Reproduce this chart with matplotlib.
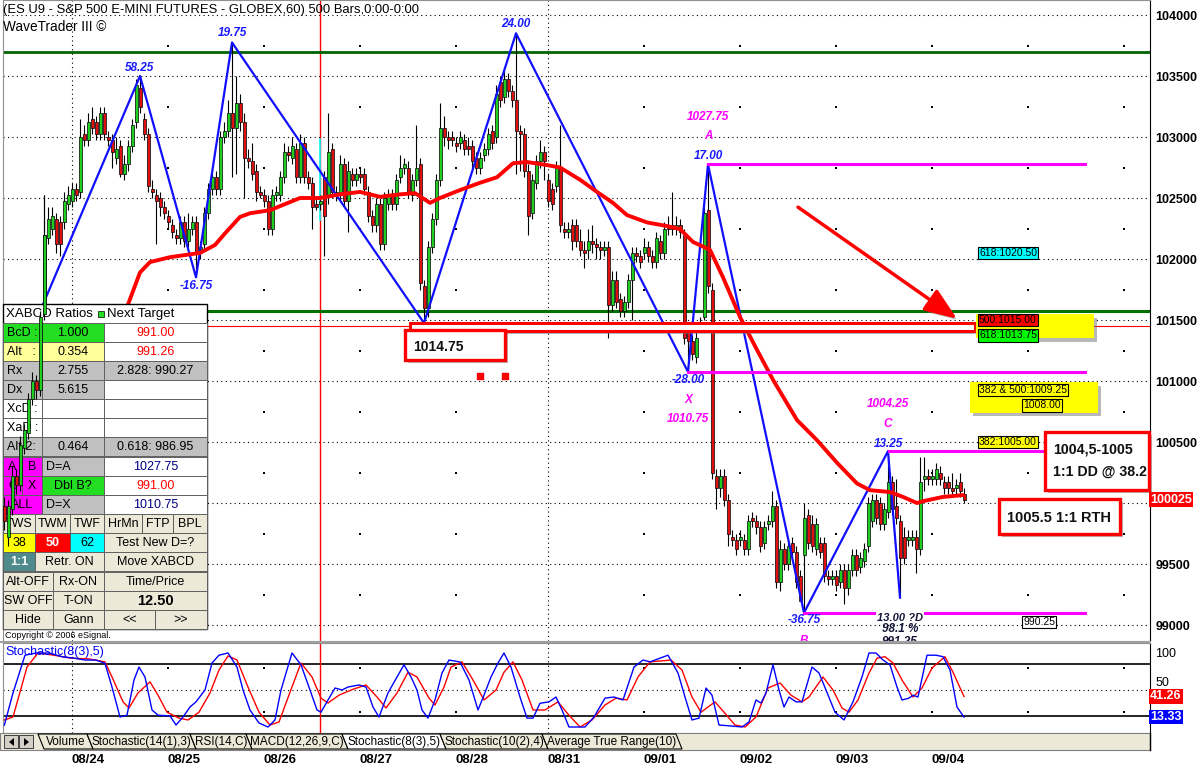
import numpy as np
import matplotlib
matplotlib.use("Agg")
import matplotlib.pyplot as plt
import matplotlib.patches as patches
import matplotlib.patheffects as pe
from matplotlib.transforms import Affine2D, blended_transform_factory

plt.rcParams['font.family'] = ['Liberation Sans', 'DejaVu Sans']

# ---------------- data ----------------
# hourly bars, index 0 = first visible bar
o = [999.75, 997.25, 999.5, 1002.25, 1001.5, 1004.5, 1005.75, 1008.5, 1010, 1009.25,
     1015.5, 1021.75, 1022.5, 1023.25, 1023, 1023, 1024.5, 1024.75, 1025.75, 1025.5,
     1030.25, 1029.75, 1031.5, 1031.25, 1030.25, 1032, 1030, 1029.75, 1028.25, 1029.25,
     1027, 1027.75, 1029.25, 1031.25, 1034, 1031.5, 1030.25, 1025.75, 1025.25, 1025,
     1024.25, 1023.5, 1022.75, 1022, 1021.75, 1023, 1021.5, 1022.5, 1023, 1020.5,
     1021.25, 1023.75, 1025.75, 1026.75, 1025.75, 1030, 1030.5, 1032, 1030.75, 1032.75,
     1031.25, 1028.25, 1028, 1027.25, 1025.5, 1025.25, 1024.75, 1022.5, 1025.25, 1025.25,
     1026.75, 1028.75, 1028.25, 1029, 1026.75, 1029.5, 1026.75, 1026.25, 1024.5, 1024.5,
     1026.75, 1025.25, 1029, 1025.25, 1025.25, 1027.75, 1024.75, 1027, 1026.5, 1027,
     1027, 1025.5, 1023.5, 1022.75, 1024.5, 1021.25, 1024.5, 1025.25, 1024.5, 1026.75,
     1027.5, 1027.5, 1025.25, 1026.5, 1027.75, 1017.75, 1016, 1021, 1023.25, 1026.5,
     1030.75, 1030, 1030, 1029.5, 1029.5, 1029.75, 1029.25, 1029.25, 1028.25, 1027.5,
     1028.5, 1029, 1030.5, 1030, 1034.5, 1033.25, 1034.75, 1033.75, 1033, 1030.5,
     1030.25, 1027.25, 1023.75, 1026.25, 1028, 1028.75, 1026.5, 1025.75, 1026, 1027.5,
     1022.5, 1022.25, 1022.75, 1022.75, 1021.5, 1020.75, 1020.75, 1021.5, 1021.25, 1021,
     1020.75, 1021, 1016.25, 1018.25, 1016.75, 1015.75, 1016.5, 1018.25, 1020.5, 1020.25,
     1020.5, 1021, 1020.25, 1019.75, 1021.5, 1020.5, 1022.75, 1022.75, 1022.5, 1022.75,
     1022, 1014, 1013.25, 1012, 1014.5, 1015.25, 1024, 1017.5, 1002.25, 1001.25,
     1002.25, 1000.25, 997.25, 997, 997, 997, 996.25, 998.75, 998.5, 998,
     996.75, 998.25, 998.5, 999.75, 993.5, 996.25, 995, 996.75, 996, 994,
     995.75, 999, 998.25, 996.25, 996.75, 996.75, 994, 993.75, 994, 993.5,
     994.5, 993, 994.5, 995.75, 994.75, 995.25, 996.5, 998.5, 1000.25, 1000,
     998.25, 999.25, 1001.75, 999.75, 998.5, 997.25, 997, 997, 997.25, 996.25,
     1002, 1002.25, 1002, 1002, 1002.5, 1001.75, 1001.75, 1001.25, 1001.25, 1001.75,
     1000.75]
h = [1000.5, 1000.25, 1003, 1002.75, 1005.5, 1006.5, 1009, 1010.75, 1010.5, 1015.75,
     1025.25, 1024.25, 1024.25, 1023.75, 1023.5, 1025.5, 1026, 1026.25, 1026.25, 1031.5,
     1031, 1032, 1032.5, 1031.75, 1032.5, 1032.5, 1030.5, 1030.25, 1030, 1029.75,
     1028.5, 1029.75, 1031.5, 1034.75, 1035, 1032, 1030.75, 1026.5, 1025.75, 1025.5,
     1024.75, 1024, 1023.25, 1022.5, 1023.5, 1023.5, 1023.75, 1023.5, 1023.5, 1021.5,
     1024.25, 1026.25, 1027.5, 1027.25, 1030.5, 1031.25, 1033, 1037.75, 1035, 1033.5,
     1032, 1029, 1029.5, 1027.75, 1026, 1025.75, 1025.25, 1025.75, 1026, 1027.25,
     1029.5, 1029.25, 1030, 1029.5, 1030.25, 1030, 1027.25, 1026.75, 1025, 1025.25,
     1027.25, 1032, 1029.5, 1026, 1028.5, 1028.25, 1028, 1027.5, 1027.5, 1027.5,
     1027.5, 1026, 1024, 1025, 1025, 1025.5, 1025.75, 1025.75, 1027, 1028.5,
     1028.25, 1028, 1027, 1031, 1028.25, 1018.25, 1021.5, 1023.75, 1027, 1032.75,
     1031.75, 1030.5, 1030.5, 1030, 1030.5, 1030.25, 1030, 1029.75, 1028.75, 1028.75,
     1029.5, 1030.75, 1031, 1034.25, 1035, 1035.5, 1035.25, 1034.25, 1038.5, 1031,
     1030.75, 1027.75, 1027, 1028.5, 1029.75, 1029.25, 1027, 1026.25, 1028, 1031,
     1023, 1023, 1023.25, 1023.25, 1022.5, 1021.5, 1022.5, 1022.75, 1021.75, 1021.5,
     1021.5, 1021.5, 1019, 1019, 1017.25, 1017, 1018.75, 1021, 1021, 1020.75,
     1021.75, 1021.5, 1020.75, 1022.25, 1022, 1023, 1023.5, 1025.5, 1023.5, 1023.25,
     1022.5, 1014.5, 1013.75, 1014, 1015.25, 1024.25, 1027.75, 1018, 1002.75, 1002.75,
     1002.75, 1000.75, 997.75, 997.5, 997.75, 997.5, 999, 999.25, 999, 998.5,
     998.5, 999, 1001, 1000.25, 997, 996.75, 997, 997.25, 996.5, 994.5,
     1000, 999.5, 999, 998.75, 997.25, 997.25, 994.5, 994.5, 994.5, 995,
     995, 995, 996.25, 996.25, 996, 996.75, 1000.5, 1000.75, 1000.75, 1000.5,
     1000, 1004.25, 1002.25, 1002, 999, 998, 997.75, 997.75, 997.75, 1003.75,
     1003.75, 1002.75, 1002.75, 1003.25, 1003, 1002.25, 1002.25, 1002.5, 1002, 1002.5,
     1001.25]
l = [997.75, 996.5, 999, 1000.75, 1001, 1004, 1005.25, 1008, 1008.5, 1008.75,
     1015, 1021.25, 1022, 1020.5, 1020.25, 1022.5, 1024, 1024.25, 1024.75, 1025,
     1029.25, 1029.25, 1030.25, 1029.75, 1029.75, 1029.75, 1029.25, 1027.5, 1027.75, 1026.75,
     1026.5, 1027.25, 1028.75, 1030.75, 1032, 1029.75, 1025.5, 1025, 1021.25, 1023.5,
     1023.25, 1022.5, 1021.75, 1021.25, 1021.25, 1021, 1021, 1022, 1018.5, 1020,
     1020.75, 1023.25, 1025.25, 1025.25, 1025.25, 1029.5, 1030, 1026.75, 1027, 1030.5,
     1025, 1027.5, 1026.5, 1024.75, 1025, 1024.25, 1022, 1022, 1024.75, 1024.75,
     1026.25, 1028, 1027.75, 1026.25, 1026.25, 1026.25, 1025.75, 1022.5, 1024, 1024,
     1020.25, 1024.5, 1025, 1024.75, 1024.75, 1024.25, 1022.25, 1026, 1026, 1026.25,
     1025.25, 1023, 1022.25, 1022.25, 1020.75, 1020.75, 1024, 1024, 1024, 1026.25,
     1027, 1025, 1024.75, 1026, 1017.5, 1014.75, 1015.25, 1020.5, 1022.75, 1026,
     1029.25, 1029, 1029.25, 1028.75, 1029, 1028.5, 1028.5, 1027.5, 1027, 1027,
     1028, 1028.5, 1029, 1029.5, 1032.5, 1032.75, 1033.25, 1032.5, 1027, 1027.25,
     1026.75, 1022, 1023.25, 1025.75, 1027.5, 1026.5, 1024.25, 1024, 1025.5, 1022.25,
     1021.75, 1021.75, 1020.75, 1021, 1020.25, 1019.25, 1020, 1020.5, 1020, 1020,
     1020.25, 1013.5, 1015.75, 1016, 1015.25, 1015.25, 1016, 1015, 1019.75, 1019.25,
     1020, 1019.75, 1019.25, 1019.25, 1020, 1020, 1022, 1022, 1022, 1021.75,
     1013, 1010.75, 1011.75, 1011.5, 1014, 1015, 1017.25, 1002, 999.5, 1000.5,
     999.75, 996.5, 996.5, 995.75, 996.5, 995.75, 995.75, 998, 997.5, 996,
     996.25, 997.75, 998, 993, 992.75, 994.5, 994.5, 995.5, 993, 992,
     991, 996.25, 996, 995.75, 995.5, 993.5, 993.25, 993.25, 992.75, 993,
     991.75, 992.5, 994, 994, 994.25, 994.75, 996, 998, 998.25, 997.75,
     997.75, 998.75, 999, 998.25, 992.25, 995, 996.5, 996.5, 994.25, 995.75,
     1001, 1001.5, 1001.5, 1001.5, 1001.5, 1000.75, 1000.75, 1000.5, 1000.75, 1000.5,
     1000]
c = [998.5, 999.75, 1002.25, 1001.5, 1004.75, 1006, 1008.5, 1010, 1009.25, 1015.25,
     1022, 1023.25, 1023.5, 1021.25, 1021.25, 1024.75, 1025.25, 1025.75, 1025.25, 1030,
     1029.75, 1031.25, 1030.75, 1030.25, 1032, 1030.25, 1029.75, 1028.75, 1029, 1027,
     1027.75, 1029.25, 1031, 1034.25, 1032.5, 1030.25, 1026, 1025.5, 1024.75, 1024.25,
     1023.75, 1023, 1022.25, 1021.75, 1023, 1021.5, 1022.5, 1023, 1020.5, 1021,
     1023.75, 1025.75, 1026.75, 1025.75, 1030, 1030.5, 1032, 1030.75, 1032.75, 1031.25,
     1028.25, 1028, 1027, 1025.5, 1025.25, 1024.75, 1022.5, 1025.25, 1025.5, 1026.75,
     1028.75, 1028.5, 1029.25, 1026.75, 1029.5, 1026.75, 1026.25, 1024.25, 1024.25, 1024.75,
     1023.5, 1028.75, 1025.5, 1025.5, 1027.75, 1024.75, 1027.25, 1026.5, 1027, 1026.75,
     1025.75, 1023.5, 1022.75, 1024.5, 1021.25, 1025, 1025.25, 1024.5, 1026.5, 1027.5,
     1027.75, 1025.5, 1026.5, 1027.5, 1018, 1016, 1021, 1023.25, 1026.5, 1030.75,
     1030, 1029.75, 1029.75, 1029.25, 1030, 1029, 1029, 1028, 1027.5, 1028.25,
     1029, 1030.25, 1029.5, 1033.5, 1033, 1034.75, 1033.75, 1033, 1030.5, 1030.25,
     1027.25, 1023.5, 1026.5, 1028, 1028.75, 1028, 1024.75, 1024.5, 1027.5, 1022.75,
     1022.25, 1022.5, 1021.5, 1021.5, 1020.75, 1020.5, 1021.5, 1021.25, 1021, 1020.75,
     1021, 1016.25, 1018.25, 1016.5, 1015.75, 1016.5, 1018.25, 1020.5, 1020.25, 1019.75,
     1021, 1020.25, 1019.75, 1021.75, 1020.5, 1022.5, 1022.5, 1022.5, 1022.75, 1022.25,
     1013.5, 1013.25, 1012.25, 1013.5, 1014.75, 1023.75, 1017.75, 1002.5, 1001.25, 1002.25,
     1000.25, 997.5, 997, 996.25, 997.25, 996.25, 998.5, 998.5, 998, 996.5,
     998, 998.5, 999.75, 993.5, 996.25, 995, 996.5, 996, 993.5, 992,
     998.75, 996.75, 996.5, 998.25, 996, 994, 993.75, 994, 993.25, 994.5,
     993, 994.5, 995.75, 994.5, 995.5, 996.25, 1000, 1000.25, 998.75, 998.25,
     999.5, 1001.75, 999.5, 998.75, 995.5, 995.5, 997.25, 997.25, 996.25, 1001.75,
     1002.25, 1002, 1002.25, 1002.75, 1002, 1001.25, 1001.25, 1001, 1001.5, 1001,
     1000.25]

# red moving average (bar position, price)
ma_x = [27, 30.75, 34, 36.5, 41.5, 49, 52.75, 55.25, 59, 61.5, 66.5, 74, 79, 84, 89, 94, 99,
        102.75, 106.5, 109, 114, 119, 123.25, 127.25, 130.75, 135.75, 139, 144, 148.25,
        152.25, 155.75, 160.75, 165.75, 169, 172.25, 176.5, 179.75, 184, 188.25, 192.25,
        198.25, 203.25, 208.25, 213.25, 216.5, 221.5, 224.75, 228.25, 229.75, 234.75, 239.75]
ma_y = [1013.5, 1016.05, 1018.9, 1019.75, 1020.15, 1020.5, 1021.15, 1022.1, 1023.45, 1023.75,
        1024.0, 1025.0, 1025.0, 1025.3, 1025.5, 1025.1, 1025.3, 1025.4, 1024.6, 1025.0,
        1025.65, 1026.25, 1026.7, 1027.85, 1027.95, 1027.7, 1027.5, 1026.5, 1025.5, 1024.6,
        1023.6, 1023.0, 1022.7, 1022.45, 1021.4, 1020.75, 1018.5, 1015.25, 1012.55, 1010.1,
        1006.8, 1005.15, 1003.3, 1001.6, 1001.05, 1000.9, 1000.5, 1000.0, 1000.15, 1000.5,
        1000.65]

# blue swing zigzag
zz_x = [0, 34, 48, 57, 105, 128, 171, 176, 200, 221, 224]
zz_y = [1008.75, 1035, 1018.5, 1037.75, 1014.75, 1038.5, 1010.75, 1027.75, 991.0, 1004.25, 992.25]
swing_labels = ['', '58.25', '-16.75', '19.75', '', '24.00', '-28.00', '17.00', '-36.75', '13.25', '']

# stochastic %K (blue) and %D (red), (bar position, value)
stoch_k = [(0.1, 2.7), (2.25, 46), (5.25, 97), (8, 100), (11.25, 100), (14.5, 95), (17.5, 93),
           (20.25, 90.5), (23, 90.5), (25.25, 86), (27, 54), (29, 13.5), (30.75, 16), (32.5, 63.5),
           (33.75, 81), (35.25, 67.5), (37, 23), (38.5, 16), (41.5, 15), (43, 2.7), (44.75, 13.5),
           (46.5, 27), (48, 34), (50.25, 50), (52, 86.5), (53.75, 97), (56, 100), (58.25, 81),
           (59.75, 50), (61.5, 23), (63.75, 5.4), (66, 0), (67.75, 9.5), (69.25, 50), (72, 100),
           (74.25, 84), (76.5, 50), (78.25, 23), (79.25, 20), (81, 36.5), (82.75, 52.7), (84.5, 50),
           (86, 54), (88.75, 56.8), (90.5, 54), (92.25, 27), (93.75, 13.5), (96, 46), (98.25, 67.6),
           (100, 84), (101.75, 67.6), (103.25, 50), (104.5, 23), (106, 12), (107.75, 36.5),
           (109.5, 72.9), (111.25, 90.5), (114, 87.8), (116.25, 63.5), (118.5, 23), (120, 43),
           (121.75, 67.6), (123.5, 86.5), (125, 100), (126.75, 81), (129, 40.5), (130.75, 12),
           (132.25, 12), (134, 32), (136.25, 34), (138, 40.5), (139.5, 23), (141.25, 0), (143, 0),
           (145.25, 0), (147.5, 13.5), (150.25, 39), (152.5, 40.5), (154.75, 36.5), (157.5, 81),
           (159.75, 90.5), (161.5, 88), (166, 97), (168.5, 73), (170.25, 40.5), (172, 9.5),
           (173.75, 12), (175.5, 52.7), (177, 43), (178.75, 2.7), (181.75, 1.4), (184.5, 0),
           (186.25, 6.8), (188, 36.5), (189.25, 32.4), (190.5, 46), (192.25, 84), (193.75, 50),
           (195, 27), (196.25, 40.5), (198, 34), (199.5, 34), (202, 81), (203.75, 73), (205.5, 50),
           (207.75, 20), (210, 9.5), (212.25, 34), (214.5, 67.6), (216.25, 100), (218, 100),
           (219.75, 90.5), (221.5, 84), (223.25, 54), (224.5, 36.5), (226.25, 39), (227.25, 43),
           (228.5, 40.5), (230.75, 97), (233, 97), (234.75, 95), (236.5, 77), (238.25, 27),
           (240, 13.33)]
stoch_d = [(0.1, 9.5), (2.25, 13.5), (5.75, 81), (8.5, 100), (12.5, 97), (16.75, 93), (21.25, 92),
           (25.25, 88), (27, 67.6), (29.75, 34), (31.25, 25.7), (33.5, 46), (36.5, 61), (38.5, 43),
           (40.75, 20), (43.75, 12), (46, 9.5), (48.75, 20), (51.5, 46), (53.75, 77), (56, 96),
           (58.25, 90.5), (61, 54), (63.75, 20), (66.5, 2.7), (68.75, 6.8), (71.5, 47), (74.25, 86.5),
           (77, 67.6), (79.25, 39), (81, 32.4), (83.75, 43), (87.25, 51), (90.5, 56.8), (93.25, 40.5),
           (95.5, 25.7), (98.25, 46), (101, 74), (103.25, 67.6), (106.25, 39), (107.75, 29.7),
           (110, 54), (111.75, 81), (114.5, 88), (117.25, 63.5), (120, 36.5), (123, 50), (125, 74),
           (127.25, 88), (129.5, 63.5), (132.25, 23), (135.25, 23), (138.5, 34), (140.75, 19),
           (144, 0), (147, 9.5), (150.25, 29.7), (153, 39), (155.75, 36.5), (158.5, 67.6),
           (161.5, 88), (166.75, 90.5), (169.5, 77), (172, 40.5), (174.25, 20), (176, 27),
           (177.75, 34), (180, 20), (182.75, 2.7), (185.25, 0), (188, 13.5), (191, 52.7),
           (194, 59.5), (196.75, 43), (199.5, 34), (201.25, 40.5), (204.75, 67.6), (207.25, 50),
           (209.5, 25.7), (211.25, 20), (213.5, 36.5), (216.25, 73), (218.25, 93), (220.25, 95),
           (222.25, 86.5), (224.5, 63.5), (227.25, 40.5), (229.5, 52.7), (232, 79.7), (235.25, 95),
           (237.25, 74), (240, 41.26)]

price_ticks = [990, 995, 1000, 1005, 1010, 1015, 1020, 1025, 1030, 1035, 1040]
day_pos = [17, 41, 65, 89, 113, 136, 160, 184, 208, 232]
day_labels = ['08/24', '08/25', '08/26', '08/27', '08/28', '08/31', '09/01', '09/02', '09/03', '09/04']
last_price = 1000.25

# ---------------- figure ----------------
W, H = 1203, 784
fig = plt.figure(figsize=(W / 100, H / 100), dpi=100)
fig.patch.set_facecolor('white')
px = Affine2D().scale(1.0 / W, -1.0 / H).translate(0, 1) + fig.transFigure
shadow = [pe.SimplePatchShadow(offset=(2.5, -2.5), shadow_rgbFace='0.45', alpha=0.5), pe.Normal()]

ax = fig.add_axes([3 / W, 1 - 641 / H, 1147 / W, 641 / H])
ax.set_xlim(-0.25, 286.5)
ax.set_ylim(988.69, 1041.23)
ax.set_xticks([])
ax.set_yticks(price_ticks)
# the 100000 label sits under the last-price tag
ax.set_yticklabels(['' if p == 1000 else '%d' % (p * 100) for p in price_ticks])
ax.yaxis.tick_right()
ax.tick_params(axis='y', length=0, pad=4, labelsize=9)
for t in ax.get_yticklabels():
    t.set_fontweight('bold')
for s in ['left', 'top', 'bottom']:
    ax.spines[s].set_color('#909090')
ax.spines['right'].set_color('black')

# grid
for p in price_ticks:
    ax.axhline(p, color='black', lw=0.8, ls=(0, (1, 3)), zorder=0.5)
ax.axvline(day_pos[0], color='black', lw=0.8, ls=(0, (1, 3)), zorder=0.5)
ax.axvline(day_pos[5], color='black', lw=0.8, ls=(0, (1, 3)), zorder=0.5)
sparse = [d for d in day_pos if d not in (day_pos[0], day_pos[5])] + [256, 280]
mids = [992.5, 997.5, 1002.5, 1007.5, 1012.5, 1017.5, 1022.5, 1027.5, 1032.5, 1037.5]
for d in sparse:
    ax.scatter([d] * len(mids), mids, s=2, c='black', marker='s', lw=0, zorder=0.5)

ax.axvline(79, color='red', lw=1, zorder=0.6)
ax.plot([79, 79], [1029.8, 1023.2], color='cyan', lw=1.2, zorder=0.7)

# horizontal levels
ax.axhline(1037, color='#006400', lw=2, zorder=1)
ax.axhline(1015.75, color='#007000', lw=2.2, zorder=1)
ax.axhline(1014.5, color='red', lw=0.8, zorder=1)

# candles
idx = np.arange(len(c))
oa, ha_, la, ca = map(np.array, (o, h, l, c))
cols = np.where(ca > oa, '#1fcf1f', '#e01010')


def draw_candles(sel, z):
    ax.vlines(idx[sel], la[sel], ha_[sel], color='black', lw=0.8, zorder=z)
    ax.bar(idx[sel], ca[sel] - oa[sel], bottom=oa[sel], width=0.75, color=cols[sel],
           edgecolor='black', linewidth=0.5, zorder=z + 0.1)


draw_candles(idx >= 0, 2)
draw_candles(idx <= 10, 4.5)

# zigzag, MA
ax.plot(zz_x, zz_y, color='#1010ff', lw=1.6, zorder=3)
ax.plot(ma_x, ma_y, color='#ff0000', lw=2.8, zorder=3, solid_capstyle='round')

# magenta levels
mag = '#ff00ff'
ax.plot([176, 270.25], [1027.75, 1027.75], color=mag, lw=2.2, zorder=3)
ax.plot([171, 270.25], [1010.75, 1010.75], color=mag, lw=2.2, zorder=3)
ax.plot([221.25, 262], [1004.25, 1004.25], color=mag, lw=2.2, zorder=3)
ax.plot([200, 270.25], [991.0, 991.0], color=mag, lw=2.2, zorder=3)

# swing labels
off = {1: 6, 2: -6.5, 3: 7, 5: 6.5, 6: -5.8, 7: 6.1, 8: -5.4, 9: 5.4}
for k, s in enumerate(swing_labels):
    if s:
        ax.annotate(s, (zz_x[k], zz_y[k]), xytext=(0, off[k]), textcoords='offset points',
                    ha='center', va='center', color='#1a1aff', fontsize=8.5,
                    fontweight='bold', style='italic', zorder=5)


def mlabel(txt, k, dy, color=mag, clip=False):
    ax.annotate(txt, (zz_x[k], zz_y[k]), xytext=(0, dy), textcoords='offset points',
                ha='center', va='center', color=color, fontsize=8.5, fontweight='bold',
                style='italic', zorder=5, annotation_clip=False, clip_on=clip)


mlabel('1027.75', 7, 34)
mlabel('A', 7, 20.5)
mlabel('X', 6, -20)
mlabel('1010.75', 6, -34)
mlabel('1004.25', 9, 34)
mlabel('C', 9, 19.4)
mlabel('B', 8, -20, clip=True)
ax.annotate('13.00 ?D', (zz_x[10], zz_y[10]), xytext=(0, -14.8), textcoords='offset points',
            ha='center', va='center', color='#15153a', fontsize=8, fontweight='bold',
            style='italic', zorder=5,
            bbox=dict(boxstyle='square,pad=0.1', fc='white', ec='none'))
mlabel('98.1 %', 10, -22.3, color='#15153a')
mlabel('991.25', 10, -31.7, color='#15153a', clip=True)

# red bar at 1014.75 and callouts
ax.add_patch(patches.Rectangle((101.5, 1014.1), 141.25, 0.65, fc='white', ec='red', lw=2.2,
                               zorder=3.6, path_effects=shadow))
ax.scatter([119, 125.25], [1010.4, 1010.4], marker='s', s=18, c='red', zorder=5)


def callout(x, y, w, hh, lines, fs=10.5):
    ax.add_patch(patches.Rectangle((x, y), w, hh, transform=px, fc='white', ec='red', lw=2.4,
                                   zorder=6, clip_on=False, path_effects=shadow))
    n = len(lines)
    for j, s in enumerate(lines):
        yy = y + hh * (j + 1) / (n + 1) + (2 if n == 1 else (j * 2 - 1) * 1.5)
        ax.text(x + 8, yy, s, transform=px, fontsize=fs, fontweight='bold', va='center',
                color='#111111', zorder=7, clip_on=False)


callout(405, 330, 100, 30, ['1014.75'], fs=10)
callout(1045, 432, 104, 58, ['1004,5-1005', '1:1 DD @ 38.2'], fs=10.2)
callout(999, 499, 121, 35, ['1005.5 1:1 RTH'])

# arrow
arr = ax.annotate('', xy=(238.25, 1015.1), xytext=(198.5, 1024.25),
                  arrowprops=dict(arrowstyle='-|>,head_length=0.9,head_width=0.35', color='red',
                                  lw=2.5, shrinkA=0, shrinkB=0, mutation_scale=22), zorder=7)
arr.arrow_patch.set_path_effects(shadow)

# yellow zones and level tags
ax.add_patch(patches.Rectangle((243, 1013.5), 29.5, 1.97, fc='#ffff00', ec='none', zorder=3.7,
                               path_effects=shadow))
ax.add_patch(patches.Rectangle((241.5, 1007.4), 32, 2.5, fc='#ffff00', ec='none', zorder=3.7,
                               path_effects=shadow))
tags = [(243.75, 1020.5, '618:1020.50', '#00ffff'), (243.75, 1015.0, '500:1015.00', '#ff0000'),
        (243.75, 1013.75, '618:1013.75', '#00ff00'), (243.75, 1009.25, '382 & 500:1009.25', '#ffff00'),
        (254.75, 1008.0, '1008.00', '#ffff00'), (243.75, 1005.0, '382:1005.00', '#ffff00'),
        (254.75, 990.25, '990.25', 'white')]
for tx, ty, s, fc in tags:
    ax.text(tx, ty, s, fontsize=7.5, va='center', ha='left', zorder=5,
            bbox=dict(boxstyle='square,pad=0.12', fc=fc, ec='black', lw=0.8))

ax.text(1.0, last_price, '100025', transform=blended_transform_factory(ax.transAxes, ax.transData),
        color='white', fontsize=9, fontweight='bold', va='center', ha='left', clip_on=False,
        zorder=8, bbox=dict(boxstyle='square,pad=0.12', fc='#ff0000', ec='none'))


# ---------------- XABCD table ----------------
def cell(x, y, w, hh, fc, txt='', tc='black', ha='center', fs=8.5, fw='normal', ec='#606060'):
    ax.add_patch(patches.Rectangle((x, y), w, hh, transform=px, fc=fc, ec=ec, lw=0.7,
                                   zorder=4, clip_on=False))
    if txt:
        tx = x + w / 2 if ha == 'center' else x + 4
        ax.text(tx, y + hh / 2 + 0.5, txt, transform=px, ha=ha, va='center', color=tc,
                fontsize=fs, fontweight=fw, zorder=4.2, clip_on=False)


ax.add_patch(patches.Rectangle((3, 304), 204, 325, transform=px, fc='white', ec='black', lw=1,
                               zorder=4, clip_on=False))
ax.text(6, 314, 'XABCD Ratios', transform=px, va='center', fontsize=9.5, zorder=4.2)
ax.add_patch(patches.Rectangle((98, 311), 6, 6, transform=px, fc='#22dd22', ec='black', lw=0.5,
                               zorder=4.2, clip_on=False))
ax.text(107, 314, 'Next Target', transform=px, va='center', fontsize=9.5, zorder=4.2)

G, Y, S, M, B = '#22dd22', '#ffff99', '#c0c0c0', '#ff00ff', '#ece9d8'
rows = [
    (323, [(3, 39, G, 'BcD :', 'black', 'left'), (42, 62, G, '1.000'), (104, 103, 'white', '991.00', 'red')]),
    (342, [(3, 39, Y, 'Alt   :', 'black', 'left'), (42, 62, Y, '0.354'), (104, 103, 'white', '991.26', 'red')]),
    (361, [(3, 39, S, 'Rx', 'black', 'left'), (42, 62, S, '2.755'), (104, 103, S, '2.828: 990.27')]),
    (380, [(3, 39, S, 'Dx', 'black', 'left'), (42, 62, S, '5.615'), (104, 103, 'white', '')]),
    (399, [(3, 39, 'white', 'XcD :', 'black', 'left'), (42, 62, 'white', ''), (104, 103, 'white', '')]),
    (418, [(3, 39, 'white', 'XaD :', 'black', 'left'), (42, 62, 'white', ''), (104, 103, 'white', '')]),
    (437, [(3, 39, S, 'Alt 2:', 'black', 'left'), (42, 62, S, '0.464'), (104, 103, S, '0.618: 986.95')]),
    (457, [(3, 19, M, 'A'), (22, 20, M, 'B'), (42, 62, S, 'D=A', 'black', 'left'), (104, 103, 'white', '1027.75', '#000080')]),
    (476, [(3, 19, M, 'C'), (22, 20, M, 'X'), (42, 62, G, 'Dbl B?'), (104, 103, 'white', '991.00', 'red')]),
    (495, [(3, 39, M, 'ALL'), (42, 62, S, 'D=X', 'black', 'left'), (104, 103, 'white', '1010.75', '#000080')]),
    (514, [(3, 32, B, 'TWS'), (35, 35, B, 'TWM'), (70, 34, B, 'TWF'), (104, 38, B, 'HrMn'),
           (142, 31, B, 'FTP'), (173, 34, B, 'BPL')]),
    (533, [(3, 32, '#ffff00', '38'), (35, 35, '#ff0000', '50', 'white'), (70, 34, '#00ffff', '62'),
           (104, 103, B, 'Test New D=?')]),
    (552, [(3, 32, '#4f8a8c', '1:1', 'white'), (35, 69, B, 'Retr. ON'), (104, 103, B, 'Move XABCD')]),
    (572, [(3, 50, B, 'Alt-OFF'), (53, 51, B, 'Rx-ON'), (104, 103, B, 'Time/Price')]),
    (591, [(3, 50, B, 'SW OFF'), (53, 51, B, 'T-ON'), (104, 103, B, '12.50')]),
    (610, [(3, 50, B, 'Hide'), (53, 51, B, 'Gann'), (104, 51, B, '<<'), (155, 52, B, '>>')]),
]
for ry, cells in rows:
    for spec in cells:
        x, w, fc, txt = spec[:4]
        tc = spec[4] if len(spec) > 4 else 'black'
        hal = spec[5] if len(spec) > 5 else 'center'
        fw = 'bold' if txt in ('12.50', '1:1', '50') else 'normal'
        fs = 10.5 if txt == '12.50' else 9
        cell(x, ry, w, 19, fc, txt, tc, hal, fs, fw)

fig.text(5 / W, 1 - 635 / H, 'Copyright \u00a9 2006 eSignal.', fontsize=6.5, va='center')
fig.text(3 / W, 1 - 10 / H, '(ES U9 - S&P 500 E-MINI FUTURES - GLOBEX,60) 500 Bars,0:00-0:00',
         fontsize=9.4, va='center')
fig.text(3 / W, 1 - 27 / H, 'WaveTrader III \u00a9', fontsize=9.8, va='center')

# ---------------- stochastic pane ----------------
ax2 = fig.add_axes([3 / W, 1 - 733 / H, 1147 / W, 90 / H])
ax2.set_xlim(-0.25, 286.5)
ax2.set_ylim(-8.1, 113.5)
kx, ky = zip(*stoch_k)
dx, dy = zip(*stoch_d)
ax2.plot(dx, dy, color='#ff0000', lw=1, zorder=3)
ax2.plot(kx, ky, color='#0000ff', lw=1, zorder=3.1)
ax2.axhline(85, color='black', lw=1.2, zorder=1)
ax2.axhline(15, color='black', lw=1.2, zorder=1)
ax2.axhline(50, color='black', lw=0.8, ls=(0, (1, 3)), zorder=1)
ax2.axvline(day_pos[0], color='black', lw=0.8, ls=(0, (1, 3)), zorder=1)
ax2.axvline(day_pos[5], color='black', lw=0.8, ls=(0, (1, 3)), zorder=1)
for d in sparse:
    ax2.scatter([d, d], [80, 20], s=2, c='black', marker='s', lw=0, zorder=1)
ax2.axvline(79, color='red', lw=1, zorder=1)
ax2.yaxis.tick_right()
ax2.set_yticks([100, 61])
ax2.set_yticklabels(['100', '50'])
ax2.tick_params(axis='y', length=0, pad=4, labelsize=9)
ax2.set_xticks(day_pos)
ax2.set_xticklabels(day_labels)
ax2.tick_params(axis='x', length=0, pad=15, labelsize=9.5)
for t in ax2.get_xticklabels():
    t.set_ha('left')
    t.set_fontweight('bold')
for s in ['left', 'top', 'bottom']:
    ax2.spines[s].set_color('#909090')
ax2.spines['right'].set_color('black')
bt = blended_transform_factory(ax2.transAxes, ax2.transData)
ax2.text(1.0, 41.26, '41.26', transform=bt, color='white', fontsize=9, fontweight='bold',
         va='center', ha='left', clip_on=False, zorder=5,
         bbox=dict(boxstyle='square,pad=0.1', fc='#ff0000', ec='none'))
ax2.text(1.0, 13.33, '13.33', transform=bt, color='white', fontsize=9, fontweight='bold',
         va='center', ha='left', clip_on=False, zorder=5,
         bbox=dict(boxstyle='square,pad=0.1', fc='#0000ff', ec='none'))
ax2.text(5, 652, 'Stochastic(8(3),5)', transform=px, color='#0000ff', fontsize=9, va='center')

# ---------------- tab bar ----------------
fig.add_artist(patches.Rectangle((0, 733), 1150, 17, transform=px, fc='#ece9d8', ec='#808080', lw=0.8))
fig.add_artist(patches.Rectangle((0, 641), 1150, 2, transform=px, fc='#a0a0a0', ec='none'))
fig.add_artist(plt.Line2D([1150, 1150], [733, 750], transform=px, color='black', lw=1))
for bx, pts in [(4, [(14, 738), (14, 746), (9, 742)]), (19, [(24, 738), (24, 746), (29, 742)])]:
    fig.add_artist(patches.Rectangle((bx, 735), 14, 13, transform=px, fc='#d4d0c8', ec='#404040', lw=0.7))
    fig.add_artist(patches.Polygon(pts, closed=True, transform=px, fc='black', ec='none'))
tabs = [('Volume', 38, 87), ('Stochastic(14(1),3)', 87, 190), ('RSI(14,C)', 190, 246),
        ('MACD(12,26,9,C)', 246, 342), ('Stochastic(8(3),5)', 342, 440),
        ('Stochastic(10(2),4)', 440, 542), ('Average True Range(10)', 542, 676)]
for name, x0, x1 in tabs:
    fc = 'white' if name == 'Stochastic(8(3),5)' else '#ece9d8'
    fig.add_artist(patches.Polygon([(x0, 734), (x1, 734), (x1 + 6, 749), (x0 + 6, 749)], closed=True,
                                   transform=px, fc=fc, ec='black', lw=0.8))
    fig.text((x0 + x1 + 6) / 2 / W, 1 - 742 / H, name, fontsize=8.5, ha='center', va='center')

fig.savefig('out.png', dpi=100, facecolor='white')
